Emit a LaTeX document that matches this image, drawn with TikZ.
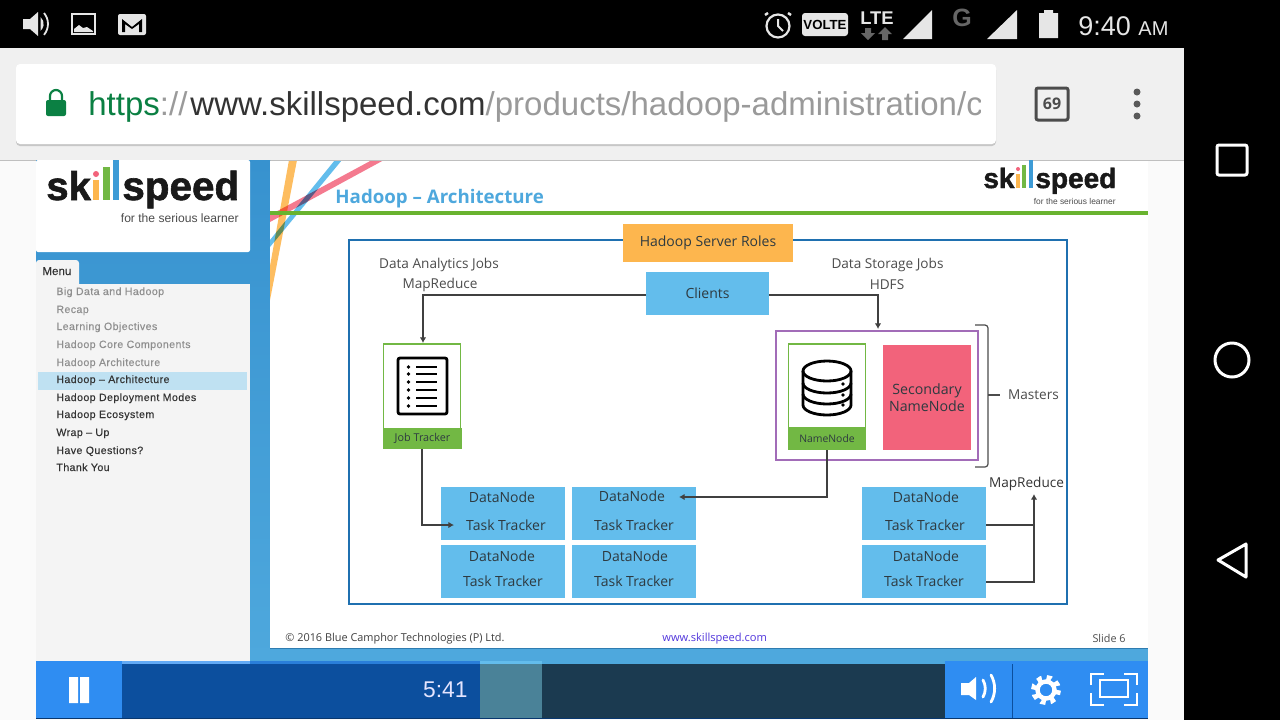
\documentclass[tikz,border=0pt]{standalone}
\usepackage{fontspec}
\setmainfont{Open Sans}
\newfontfamily\urlf{Liberation Sans}
\newfontfamily\menuf[LetterSpace=4,FakeBold=0.25]{Liberation Sans}
\newfontfamily\menut[FakeBold=0.3]{Liberation Sans}
\newfontfamily\logof[BoldFeatures={FakeBold=1.5}]{Liberation Sans}
\newfontfamily\timef{Liberation Sans}
\usetikzlibrary{arrows.meta}
\definecolor{sideblue}{HTML}{3792CF}
\definecolor{lowblue}{HTML}{4EA8DD}
\definecolor{logoblue}{HTML}{3D9BD6}
\definecolor{barblue}{HTML}{2F8DF2}
\definecolor{progblue}{HTML}{0C4F9E}
\definecolor{bufcol}{HTML}{4A8298}
\definecolor{restcol}{HTML}{1B3A50}
\definecolor{framecol}{HTML}{1F70B0}
\definecolor{skyc}{HTML}{63BDEC}
\definecolor{orangec}{HTML}{FDB64E}
\definecolor{greenc}{HTML}{72B844}
\definecolor{rulegreen}{HTML}{69B32F}
\definecolor{purplec}{HTML}{A26CB8}
\definecolor{pinkc}{HTML}{F2637B}
\definecolor{txtc}{HTML}{2E3A40}
\definecolor{greytxt}{HTML}{8F8F8F}
\definecolor{menutxt}{HTML}{333333}
\definecolor{urlgrey}{HTML}{9A9A9A}
\definecolor{urldark}{HTML}{333333}
\definecolor{urlgreen}{HTML}{0B8043}
\definecolor{tile}{HTML}{E6E6E6}
\definecolor{hilite}{HTML}{BFE1F2}
\tikzset{
  x=0.5pt,y=-0.5pt,
  box/.style={inner sep=0,outer sep=0},
  txt/.style={inner sep=0,outer sep=0,text=txtc,font=\fontsize{7}{8}\selectfont},
  lab/.style={inner sep=0,outer sep=0,text=#1,font=\fontsize{6.8}{8}\selectfont},
  conn/.style={draw=black!75,line width=0.55pt},
  tip/.style={-{Latex[length=2.8pt,width=3.2pt]}},
  mitem/.style={inner sep=0,anchor=base west,font=\menuf\fontsize{5.3}{6}\selectfont},
  navln/.style={draw=white,line width=1.5pt,fill=none},
  ctl/.style={draw=white,line width=1.4pt,fill=none},
  iconln/.style={draw=black,line width=1.4pt},
}
\begin{document}
\begin{tikzpicture}
\useasboundingbox (0,0) rectangle (1280,720);
% base
\fill[black] (0,0) rectangle (1280,720);
\fill[black!2] (0,160) rectangle (1184,720);
\fill[black!6] (0,48) rectangle (1184,160);
\fill[black!25] (0,160) rectangle (1184,161);
% address bar
\fill[black!22,rounded corners=2pt] (16,66) rectangle (996,146);
\fill[white,rounded corners=2pt] (16,64) rectangle (996,144);
\fill[urlgreen,rounded corners=1pt] (46,100) rectangle (66,116);
\draw[urlgreen,line width=1.1pt] (50,100) -- (50,96) arc[start angle=180,end angle=360,radius=6] -- (62,100);
\begin{scope}
\clip (80,70) rectangle (980,140);
\node[inner sep=0,anchor=base west,font=\urlf\fontsize{16.5}{20}\selectfont] (url) at (88,115) {\textcolor{urlgreen}{https}\textcolor{urlgrey}{://}\hspace{1.5pt}\textcolor{urldark}{www.skillspeed.com}\textcolor{urlgrey}{/products/hadoop-administration/c}};
\end{scope}
\node[draw=black!70,line width=1.5pt,rounded corners=1pt,minimum width=16pt,minimum height=16pt,inner sep=0,font=\bfseries\fontsize{8}{9}\selectfont,text=black!70] (tabs) at (1052,104) {69};
\foreach \yy in {92,104,116} \fill[black!65] (1137,\yy) circle[radius=3.5];
% status bar left
\fill[tile] (23,19) -- (30,19) -- (38,12) -- (38,36) -- (30,29) -- (23,29) -- cycle;
\fill[tile] (40.5,17) arc[start angle=-50,end angle=50,radius=9] -- cycle;
\draw[tile,line width=.9pt] (44,13) arc[start angle=-40,end angle=40,radius=17];
\draw[tile,line width=1pt] (72,14) rectangle (95,34);
\fill[tile] (74,32) -- (74,29) -- (79,25) -- (83,28) -- (87,27) -- (93,31) -- (93,32) -- cycle;
\fill[tile,rounded corners=1pt] (118,14) rectangle (146,35);
\fill[black] (122,19) -- (132,27) -- (142,19) -- (142,32) -- (139,32) -- (139,24) -- (132,29) -- (125,24) -- (125,32) -- (122,32) -- cycle;
% status bar right
\draw[tile,line width=1.1pt] (778,26) circle[radius=11.5];
\draw[tile,line width=1pt] (778,19) -- (778,26) -- (783,31);
\draw[tile,line width=1.2pt] (768,13) -- (765,15) (788,13) -- (791,15);
\fill[tile,rounded corners=1.5pt] (802,13) rectangle (848,36);
\node[inner sep=0,font=\urlf\bfseries\fontsize{6.6}{8}\selectfont,text=black] (volte) at (825,25) {VOLTE};
\node[inner sep=0,font=\urlf\bfseries\fontsize{9.2}{10}\selectfont,text=tile] (lte) at (877,18) {LTE};
\fill[black!60] (865,28) rectangle (871,33) (861,33) -- (875,33) -- (868,40) -- cycle;
\fill[black!60] (882,33) rectangle (888,40) (878,34) -- (892,34) -- (885,27) -- cycle;
\fill[tile] (903,39) -- (932,10) -- (932,39) -- cycle;
\node[inner sep=0,font=\urlf\bfseries\fontsize{12.5}{13}\selectfont,text=black!60] (gsig) at (962,18) {G};
\fill[tile] (987,39) -- (1017,10) -- (1017,39) -- cycle;
\fill[tile] (1039,13) rectangle (1058,38) (1044,10) rectangle (1053,13);
\node[inner sep=0,anchor=base west,font=\timef\fontsize{13.5}{15}\selectfont,text=tile] (clock) at (1078,35) {9:40 {\fontsize{10}{12}\selectfont AM}};
% nav
\draw[navln,rounded corners=1pt] (1217,145) rectangle (1247,175);
\draw[navln] (1232,360) circle[radius=17];
\draw[navln,line join=round] (1246,544) -- (1218,560) -- (1246,577) -- cycle;
% left panel
\shade[top color=sideblue,bottom color=lowblue] (36,160) rectangle (270,664);
\fill[white,rounded corners=1pt] (36,160) rectangle (250,252);
\fill[black!4.5,rounded corners=1.5pt] (36,260) rectangle (79,290);
\fill[black!4.5] (36,284) rectangle (250,662);
% left logo
\node[inner sep=0,anchor=base west,font=\logof\bfseries\fontsize{20}{22}\selectfont,text=black!90] (logo1a) at (46,200) {sk};
\fill[orangec] (93,180) rectangle (99,200);
\fill[pinkc] (96,174) circle[radius=3];
\fill[greenc] (103,167) rectangle (110,200);
\fill[logoblue] (113,160) rectangle (119,200);
\node[inner sep=0,anchor=base west,font=\logof\bfseries\fontsize{20.2}{22}\selectfont,text=black!90] (logo1b) at (122,200) {speed};
\node[inner sep=0,anchor=base east,font=\logof\fontsize{6.05}{7}\selectfont,text=black!70] (logo1c) at (239,222) {for the serious learner};
% menu
\node[inner sep=0,anchor=base west,font=\menut\fontsize{5.8}{7}\selectfont,text=menutxt] (menu) at (42,275) {Menu};
\fill[hilite] (38,372) rectangle (247,390);
\foreach \nm/\yy/\tx/\cc in {a/295/Big Data and Hadoop/greytxt,b/313/Recap/greytxt,c/330/Learning Objectives/greytxt,d/348/Hadoop Core Components/greytxt,e/366/Hadoop Architecture/greytxt,f/383/Hadoop – Architecture/menutxt,g/401/Hadoop Deployment Modes/menutxt,h/418/Hadoop Ecosystem/menutxt,i/436/Wrap – Up/menutxt,j/454/Have Questions?/menutxt,k/471/Thank You/menutxt}
  \node[mitem,text=\cc] (m\nm) at (56,\yy) {\tx};
% slide
\fill[lowblue] (250,648) rectangle (1148,664);
\fill[white] (270,161) rectangle (1148,648);
\fill[sideblue!85!black] (270,648) rectangle (1148,649);
% streaks
\begin{scope}[blend group=multiply]
\clip (270,161) rectangle (1148,648);
\fill[orangec!90!white] (289,160) -- (297,160) -- (270,300) -- (270,266) -- cycle;
\fill[skyc] (335,160) -- (342,160) -- (270,247) -- (270,240) -- cycle;
\fill[pinkc!85!white] (372,160) -- (384,160) -- (270,222) -- (270,215) -- cycle;
\end{scope}
\fill[rulegreen] (270,210.5) rectangle (1148,214.5);
\node[inner sep=0,anchor=base west,font=\bfseries\fontsize{9.35}{11}\selectfont,text=lowblue] (title) at (335,203) {Hadoop – Architecture};
% right logo
\node[inner sep=0,anchor=base west,font=\logof\bfseries\fontsize{14}{15}\selectfont,text=black!90] (logo2a) at (983,188) {sk};
\fill[orangec] (1016,174) rectangle (1020,188);
\fill[pinkc] (1018,169) circle[radius=2];
\fill[greenc] (1022,165) rectangle (1026,188);
\fill[logoblue] (1029,160) rectangle (1033,188);
\node[inner sep=0,anchor=base west,font=\logof\bfseries\fontsize{14}{15}\selectfont,text=black!90] (logo2b) at (1035,188) {speed};
\node[inner sep=0,anchor=base east,font=\logof\fontsize{4.2}{5}\selectfont,text=black!70] (logo2c) at (1116,204) {for the serious learner};
% main frame
\draw[framecol,line width=1pt] (349,240) rectangle (1067,604);
\node[box,fill=orangec,minimum width=85pt,minimum height=19pt,text=txtc,font=\fontsize{7}{9}\selectfont] (roles) at (708,243) {\raisebox{-1pt}{Hadoop Server Roles}};
\node[box,fill=skyc,minimum width=61.5pt,minimum height=21.5pt,text=txtc,font=\fontsize{7}{9}\selectfont] (clients) at (707.5,293.5) {\raisebox{-.5pt}{Clients}};
\node[lab=black!70] (daj) at (439,265) {Data Analytics Jobs};
\node[lab=black!70] (mr1) at (440,285) {MapReduce};
\node[lab=black!70] (dsj) at (887.5,265) {Data Storage Jobs};
\node[lab=black!70] (hdfs) at (887,285) {HDFS};
% job tracker
\node[box,draw=greenc,line width=.8pt,fill=white,minimum width=38.5pt,minimum height=43pt] (jt) at (422,387) {};
\node[box,fill=greenc,minimum width=39.5pt,minimum height=10.5pt,font=\fontsize{5.4}{6}\selectfont,text=txtc] (jtl) at (422.5,438.5) {Job Tracker};
\draw[iconln,rounded corners=1pt] (398,358) rectangle (447,414);
\foreach \yy in {367,374,382,390,398,406} {\fill[black] (408.5,\yy) circle[radius=1.8]; \draw[black,line width=1.25pt] (416,\yy) -- (437,\yy);}
% purple masters
\node[box,draw=purplec,line width=.8pt,minimum width=101pt,minimum height=64.5pt] (mast) at (877,395.5) {};
\node[box,draw=greenc,line width=.8pt,fill=white,minimum width=38.5pt,minimum height=42pt] (nn) at (827,386) {};
\node[box,fill=greenc,minimum width=39pt,minimum height=11pt,font=\fontsize{5.2}{6}\selectfont,text=txtc] (nnl) at (827,439) {NameNode};
\node[box,fill=pinkc,minimum width=44pt,minimum height=52.5pt,align=center,text=txtc,font=\fontsize{7.1}{8.4}\selectfont] (snn) at (927,397.5) {Secondary\\NameNode};
% database icon
\draw[iconln] (827,371) ellipse[x radius=24,y radius=10];
\draw[iconln] (803,371) -- (803,405) arc[start angle=180,end angle=0,x radius=24,y radius=10] -- (851,371);
\draw[iconln] (803,383) arc[start angle=180,end angle=0,x radius=24,y radius=10];
\draw[iconln] (803,394) arc[start angle=180,end angle=0,x radius=24,y radius=10];
\fill[black] (843,384) circle[radius=1.8] (843,395) circle[radius=1.8] (843,405) circle[radius=1.8];
% brace
\draw[black!70,line width=.6pt,rounded corners=1.5pt] (975,325) -- (988,325) -- (988,467) -- (975,467);
\draw[black!70,line width=.6pt] (988,395) -- (1000,395);
\node[lab=black!70] (masters) at (1033.5,394.5) {Masters};
\node[lab=black!80] (mr2) at (1026.5,484) {MapReduce};
% datanode boxes
\foreach \nm/\xx/\yy in {d1/503/513.5,d2/634/513.5,d3/503/571.5,d4/634/571.5,d5/924/513.5,d6/924/571.5}
  \node[box,fill=skyc,minimum width=62pt,minimum height=26.5pt] (\nm) at (\xx,\yy) {};
\foreach \nm/\xx/\yy/\tx in {a1/502/497/DataNode,b1/506/525/Task Tracker,a2/632/496/DataNode,b2/634/525/Task Tracker,a3/502/556/DataNode,b3/503/581/Task Tracker,a4/635/556/DataNode,b4/634/581/Task Tracker,a5/926/497/DataNode,b5/925/525/Task Tracker,a6/926/556/DataNode,b6/924/581/Task Tracker}
  \node[txt] (\nm) at (\xx,\yy) {\tx};
% connectors
\coordinate (t1) at (454,525);
\coordinate (t2) at (679,497);
\coordinate (t3) at (1034,494);
\draw[conn,tip] (clients.west |- 0,295) -| (423,343);
\draw[conn,tip] (clients.east |- 0,295) -| (878,329);
\draw[conn,tip] (jtl.south -| 422,0) |- (t1);
\draw[conn,tip] (nnl.south) |- (t2);
\draw[conn] (d5.east |- 0,525) -- (1034,525);
\draw[conn,tip] (d6.east |- 0,582) -| (t3);
% footer
\node[inner sep=0,anchor=base west,font=\fontsize{5.45}{6}\selectfont,text=black!75] (copy) at (285,641.5) {© 2016 Blue Camphor Technologies (P) Ltd.};
\node[inner sep=0,anchor=base west,font=\fontsize{5.55}{6}\selectfont,text=purplec!50!blue] (www) at (662,641) {www.skillspeed.com};
\node[inner sep=0,anchor=base east,font=\fontsize{5.4}{6}\selectfont,text=black!70] (slide) at (1126,642) {Slide 6};
% player
\fill[restcol] (542,664) rectangle (945,718);
\fill[barblue] (36,661) rectangle (122,718);
\fill[barblue!75!white] (122,661) rectangle (250,664);
\fill[barblue!90!black] (250,661) rectangle (480,664);
\fill[progblue] (122,664) rectangle (480,718);
\fill[bufcol] (480,664) rectangle (542,718);
\fill[skyc] (480,661) rectangle (542,664);
\fill[barblue] (945,661) rectangle (1148,718);
\fill[progblue] (1012,664) rectangle (1012.7,718);
\fill[progblue!70!black] (36,718) rectangle (1148,719);
\fill[white] (69,677) rectangle (78,703) (80,677) rectangle (89,703);
\node[inner sep=0,anchor=base east,font=\timef\fontsize{11.4}{13}\selectfont,text=white!90!blue] (elapsed) at (468,697) {5:41};
\fill[white] (961,683) -- (969,683) -- (976,677) -- (976,700) -- (969,695) -- (961,695) -- cycle;
\draw[ctl,line cap=round] (983,680) arc[start angle=-30,end angle=30,radius=17];
\draw[ctl,line cap=round] (991,675) arc[start angle=-30,end angle=30,radius=27];
\draw[white,line width=3.5pt,dash pattern=on 2.26pt off 2.26pt] (1046,690) circle[radius=11.5];
\draw[white,line width=2.2pt] (1046,690) circle[radius=8.5];
\draw[ctl] (1100,680) rectangle (1128,697);
\draw[ctl] (1091,685) -- (1091,674) -- (1104,674) (1124,674) -- (1137,674) -- (1137,685) (1137,693) -- (1137,705) -- (1124,705) (1104,705) -- (1091,705) -- (1091,693);
\end{tikzpicture}
\end{document}
